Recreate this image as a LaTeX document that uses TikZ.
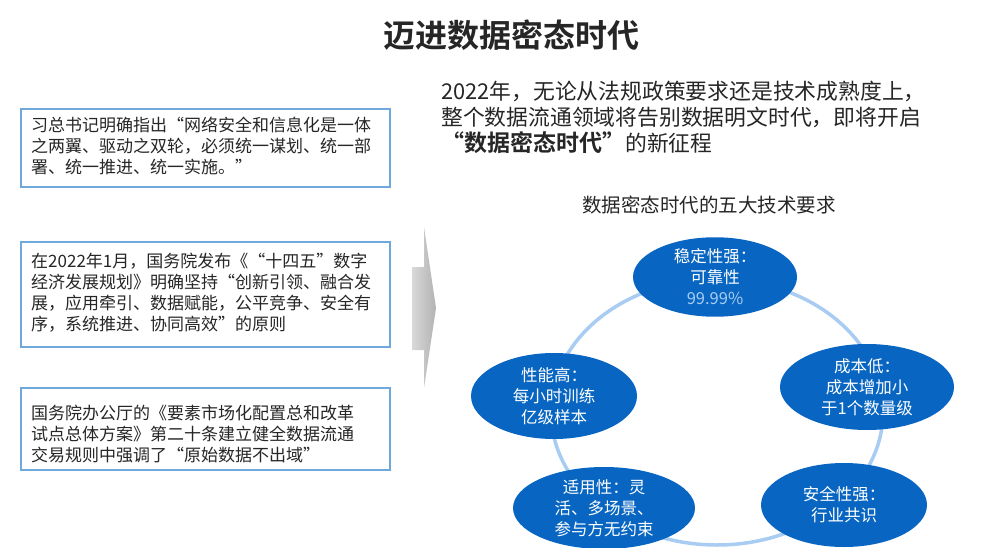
\documentclass[tikz,border=0pt]{standalone}
\usetikzlibrary{shapes.geometric}
\usepackage{fontspec}
\setmainfont{Noto Sans CJK SC}[BoldFont={Noto Sans CJK SC Bold}]
\begin{document}
\begin{tikzpicture}[x=1pt,y=-1pt,
  lbox/.style={draw=boxblue,line width=1.3pt},
  ltext/.style={anchor=north west,font=\fontsize{17}{21}\selectfont,text=black!85,align=left,inner sep=0},
  ell/.style={ellipse,fill=ellblue,draw=none,text=white,align=center,font=\fontsize{16.5}{21}\selectfont,inner sep=0}]
\definecolor{boxblue}{HTML}{6FA8DC}
\definecolor{ellblue}{HTML}{0866C2}
\definecolor{ringblue}{HTML}{A9CDF2}
\useasboundingbox (0,0) rectangle (1000,548);
\fill[white] (0,0) rectangle (1000,548);
\node[font=\fontsize{32}{36}\selectfont\bfseries,text=black!85] (title) at (511,35) {迈进数据密态时代};
% left boxes
\draw[lbox] (21,109) rectangle (390,187);
\node[ltext] (t1) at (31,117) {习总书记明确指出“网络安全和信息化是一体\\之两翼、驱动之双轮，必须统一谋划、统一部\\署、统一推进、统一实施。”};
\draw[lbox] (21,242) rectangle (390,347);
\node[ltext] (t2) at (31,253) {在2022年1月，国务院发布《“十四五”数字\\经济发展规划》明确坚持“创新引领、融合发\\展，应用牵引、数据赋能，公平竞争、安全有\\序，系统推进、协同高效”的原则};
\draw[lbox] (21,388) rectangle (390,470);
\node[ltext] (t3) at (31,405) {国务院办公厅的《要素市场化配置总和改革\\试点总体方案》第二十条建立健全数据流通\\交易规则中强调了“原始数据不出域”};
% arrow
\shade[left color=black!15,right color=black!30] (412,267) -- (424,267) -- (424,227) -- (436,308) -- (424,388) -- (424,350) -- (412,350) -- cycle;
% right text
\node[anchor=north west,inner sep=0,align=left,font=\fontsize{21.8}{26}\selectfont,text=black!85] (rt) at (441,81) {2022年，无论从法规政策要求还是技术成熟度上，\\整个数据流通领域将告别数据明文时代，即将开启\\{\fontsize{23}{26}\selectfont\bfseries “数据密态时代”}的新征程};
\node[font=\fontsize{19.5}{22}\selectfont,text=black!85] (sub) at (709,205) {数据密态时代的五大技术要求};
% ring
\draw[ringblue,line width=3.5pt] (717,412) ellipse [x radius=166,y radius=133];
\node[ell,minimum width=164,minimum height=76] (e1) at (715,277) {稳定性强：\\可靠性\\{\color{ringblue}99.99\%}};
\node[ell,minimum width=174,minimum height=86] (e2) at (867,387) {成本低：\\成本增加小\\于1个数量级};
\node[ell,minimum width=166,minimum height=84] (e3) at (844,505) {安全性强：\\行业共识};
\node[ell,minimum width=182,minimum height=82] (e4) at (604,508) {适用性：灵\\活、多场景、\\参与方无约束};
\node[ell,minimum width=166,minimum height=86] (e5) at (554,396) {性能高：\\每小时训练\\亿级样本};
\end{tikzpicture}
\end{document}
